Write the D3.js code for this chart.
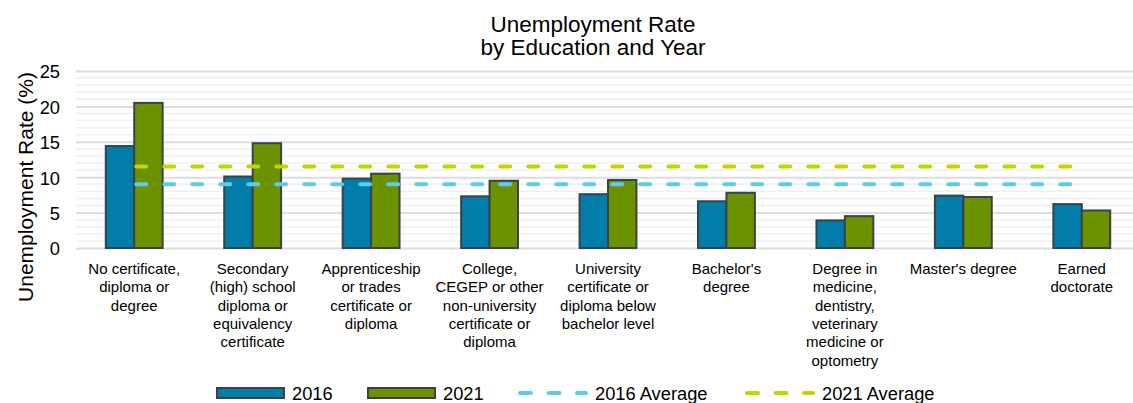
<!DOCTYPE html>
<html>
<head>
<meta charset="utf-8">
<script src="https://cdn.jsdelivr.net/npm/d3@7"></script>
<style>
  html, body { margin: 0; padding: 0; background: #fff; }
  svg { display: block; font-family: "Liberation Sans", Arial, sans-serif; }
</style>
</head>
<body>
<svg id="chart" width="1133" height="403"></svg>
<script>
// Education levels (x categories)
const categories = [
  "No certificate, diploma or degree",
  "Secondary (high) school diploma or equivalency certificate",
  "Apprenticeship or trades certificate or diploma",
  "College, CEGEP or other non-university certificate or diploma",
  "University certificate or diploma below bachelor level",
  "Bachelor's degree",
  "Degree in medicine, dentistry, veterinary medicine or optometry",
  "Master's degree",
  "Earned doctorate"
];

// Unemployment rate (%) by year
const rate2016 = [14.4, 10.1, 9.8, 7.3, 7.6, 6.6, 3.9, 7.4, 6.2];
const rate2021 = [20.5, 14.8, 10.5, 9.5, 9.6, 7.8, 4.5, 7.2, 5.3];

// Overall averages (%)
const avg2016 = 9.0;
const avg2021 = 11.5;

const seriesNames = ["2016", "2021"];
const averageNames = ["2016 Average", "2021 Average"];
const yTicks = [0, 5, 10, 15, 20, 25];

const colors = {
  "2016": "#007DA8",
  "2021": "#6D9200",
  "2016 Average": "#5FCBEA",
  "2021 Average": "#C3D600"
};

const svg = d3.select("#chart");
const plot = { left: 75, right: 1141, top: 71, bottom: 248 };

const x = d3.scaleBand().domain(categories).range([plot.left, plot.right]);
const y = d3.scaleLinear().domain([0, 25]).range([plot.bottom, plot.top]);
const barW = x.bandwidth() * 0.24;

// Title
const title = svg.append("g").attr("text-anchor", "middle").attr("fill", "#000");
title.append("text").attr("x", 593).attr("y", 32).attr("font-size", 22.5).text("Unemployment Rate");
title.append("text").attr("x", 593).attr("y", 55).attr("font-size", 22.5).text("by Education and Year");

// Minor gridlines every 1%
svg.append("g").selectAll("line")
  .data(d3.range(1, 25).filter(v => v % 5 !== 0))
  .join("line")
  .attr("x1", plot.left + 1).attr("x2", plot.right)
  .attr("y1", d => y(d)).attr("y2", d => y(d))
  .attr("stroke", "#eef0f3").attr("stroke-width", 1.5);

// Major gridlines + tick labels via axis
const yAxis = d3.axisLeft(y).tickValues(yTicks).tickSize(-(plot.right - plot.left - 1)).tickPadding(16);
const yg = svg.append("g").attr("transform", `translate(${plot.left + 1},0)`).call(yAxis);
yg.select(".domain").remove();
yg.selectAll(".tick line").attr("stroke", "#dadee3").attr("stroke-width", 2);
yg.selectAll(".tick text")
  .attr("font-size", 18.3).attr("fill", "#000")
  .attr("font-family", "Liberation Sans, Arial, sans-serif")
  .attr("dy", "0.38em");

// Y axis title
svg.append("text")
  .attr("transform", "translate(33,187) rotate(-90)")
  .attr("text-anchor", "middle")
  .attr("font-size", 21)
  .attr("fill", "#000")
  .text("Unemployment Rate (%)");

// Bars
const rows = categories.map((c, i) => ({ cat: c, "2016": rate2016[i], "2021": rate2021[i] }));
const groups = svg.append("g").selectAll("g")
  .data(rows).join("g")
  .attr("transform", d => `translate(${x(d.cat) + x.bandwidth() / 2},0)`);

groups.selectAll("rect")
  .data(d => seriesNames.map((s, k) => ({ s, k, v: d[s] })))
  .join("rect")
  .attr("x", d => d.k === 0 ? -barW : 0)
  .attr("width", barW)
  .attr("y", d => y(d.v))
  .attr("height", d => y(0) - y(d.v))
  .attr("fill", d => colors[d.s])
  .attr("stroke", "#36434d")
  .attr("stroke-width", 2);

// Average lines, from first to last category centre
const cx0 = x(categories[0]) + x.bandwidth() / 2;
const cx1 = x(categories[categories.length - 1]) + x.bandwidth() / 2;
[[avg2016, "2016 Average"], [avg2021, "2021 Average"]].forEach(([v, name]) => {
  svg.append("line")
    .attr("x1", cx0).attr("x2", cx1)
    .attr("y1", y(v)).attr("y2", y(v))
    .attr("stroke", colors[name])
    .attr("stroke-width", 4)
    .attr("stroke-linecap", "round")
    .attr("stroke-dasharray", "10 18")
    .attr("stroke-dashoffset", -2);
});

// Category labels, wrapped to the band width
const labelFont = 15, lineH = 18.3, maxW = 110;
const xl = svg.append("g").attr("text-anchor", "middle").attr("fill", "#000").attr("font-size", labelFont);
categories.forEach(c => {
  const t = xl.append("text").attr("x", x(c) + x.bandwidth() / 2).attr("y", 274);
  const words = c.split(" ");
  let line = [], lineNo = 0;
  let tspan = t.append("tspan").attr("x", x(c) + x.bandwidth() / 2).attr("dy", 0);
  words.forEach(w => {
    line.push(w);
    tspan.text(line.join(" "));
    if (tspan.node().getComputedTextLength() > maxW && line.length > 1) {
      line.pop();
      tspan.text(line.join(" "));
      line = [w];
      lineNo++;
      tspan = t.append("tspan").attr("x", x(c) + x.bandwidth() / 2).attr("dy", lineH).text(w);
    }
  });
});

// Legend
const legend = svg.append("g").attr("font-size", 18.3).attr("fill", "#000");
const legendItems = [
  { name: "2016", type: "bar", x: 217 },
  { name: "2021", type: "bar", x: 368 },
  { name: "2016 Average", type: "line", x: 518 },
  { name: "2021 Average", type: "line", x: 745 }
];
legendItems.forEach(it => {
  if (it.type === "bar") {
    legend.append("rect")
      .attr("x", it.x).attr("y", 388).attr("width", 67).attr("height", 10)
      .attr("fill", colors[it.name]).attr("stroke", "#36434d").attr("stroke-width", 2);
    legend.append("text").attr("x", it.x + 75).attr("y", 399.5).text(it.name);
  } else {
    legend.append("line")
      .attr("x1", it.x + 2).attr("x2", it.x + 68)
      .attr("y1", 393).attr("y2", 393)
      .attr("stroke", colors[it.name]).attr("stroke-width", 4)
      .attr("stroke-linecap", "round")
      .attr("stroke-dasharray", "11 17.5");
    legend.append("text").attr("x", it.x + 77).attr("y", 399.5).text(it.name);
  }
});
</script>
</body>
</html>
